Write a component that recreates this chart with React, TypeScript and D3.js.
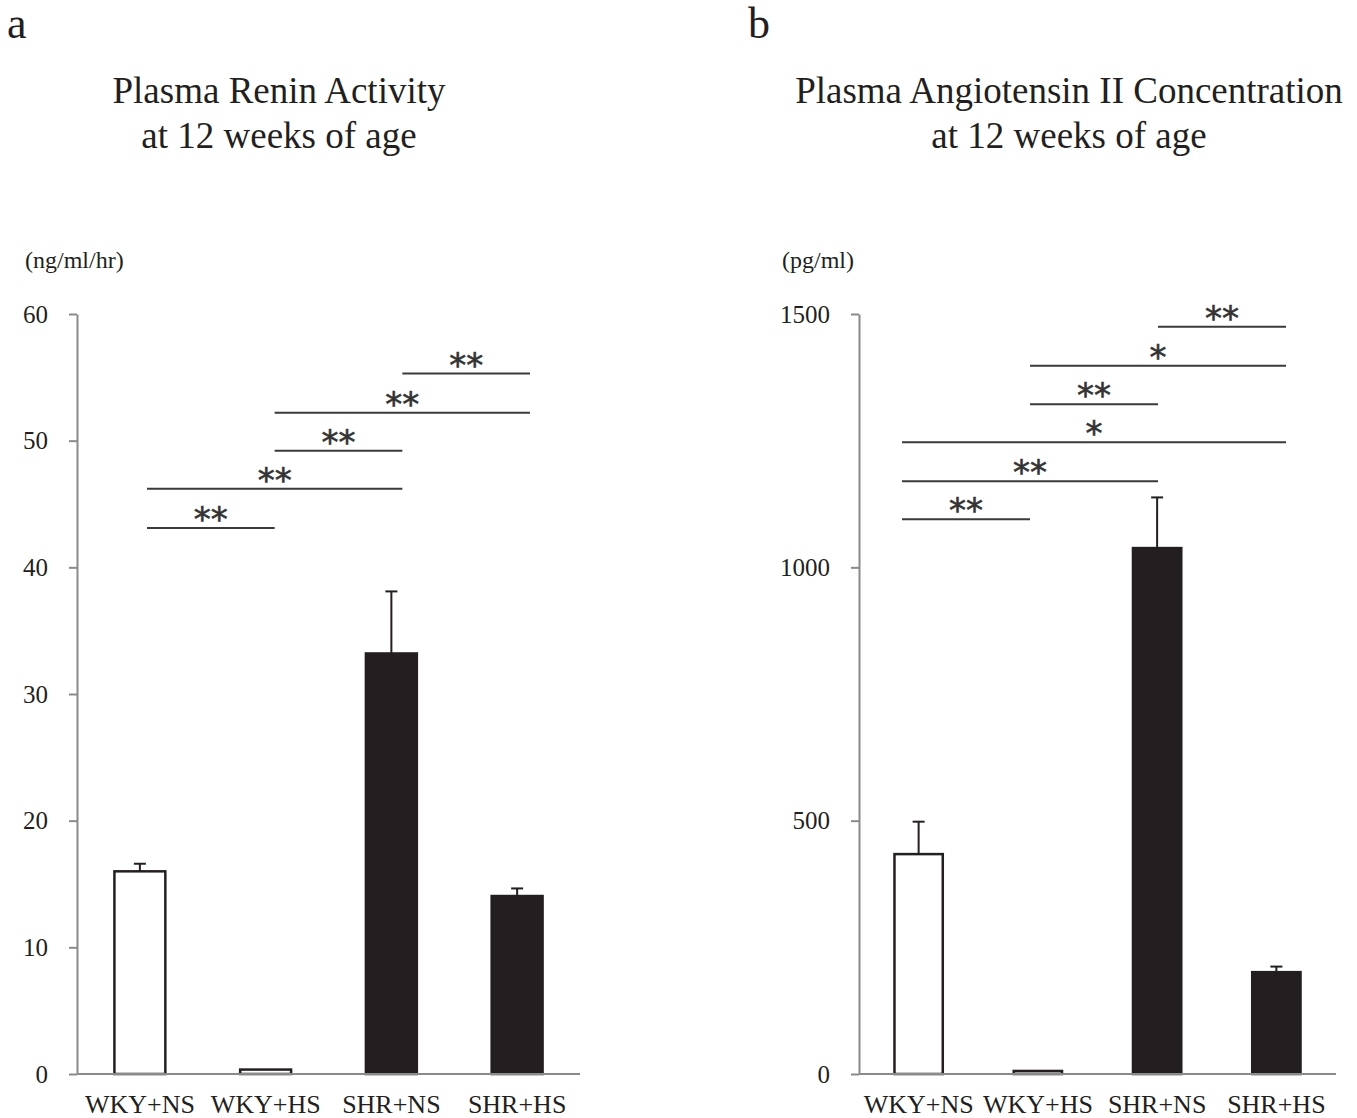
import React, { useEffect, useRef } from "react";
import * as d3 from "d3";

const categories = ["WKY+NS", "WKY+HS", "SHR+NS", "SHR+HS"];

// panel a: plasma renin activity (ng/ml/hr)
const reninMeans = [16.0, 0.35, 33.2, 14.05];
const reninErrors = [0.6, 0, 4.9, 0.6];
const reninTicks = [0, 10, 20, 30, 40, 50, 60];
const reninSig = [
  { from: 0, to: 1, label: "**", level: 43.1 },
  { from: 0, to: 2, label: "**", level: 46.2 },
  { from: 1, to: 2, label: "**", level: 49.2 },
  { from: 1, to: 3, label: "**", level: 52.2 },
  { from: 2, to: 3, label: "**", level: 55.3 },
];

// panel b: plasma angiotensin II (pg/ml)
const angMeans = [434, 6, 1038, 201];
const angErrors = [64, 0, 100, 11];
const angTicks = [0, 500, 1000, 1500];
const angSig = [
  { from: 0, to: 1, label: "**", level: 1095 },
  { from: 0, to: 2, label: "**", level: 1170 },
  { from: 0, to: 3, label: "*", level: 1247 },
  { from: 1, to: 2, label: "**", level: 1322 },
  { from: 1, to: 3, label: "*", level: 1398 },
  { from: 2, to: 3, label: "**", level: 1475 },
];

const barFills = ["#ffffff", "#ffffff", "#231f20", "#231f20"];
const FONT = "'Liberation Serif', 'Times New Roman', serif";
const INK = "#231f20";

const App = () => {
  const svgRef = useRef<SVGSVGElement>(null);

  useEffect(() => {
    drawChart();
  }, []);

  const drawChart = () => {
    const svg = d3.select(svgRef.current);
    svg.selectAll("*").remove();

    const panels = [
      {
        letter: "a", letterX: 7,
        title: ["Plasma Renin Activity", "at 12 weeks of age"], titleX: 279,
        unit: "(ng/ml/hr)", unitX: 25,
        left: 77, right: 580, max: 60,
        ticks: reninTicks, means: reninMeans, errors: reninErrors, sig: reninSig,
        sigRange: [147, 530],
      },
      {
        letter: "b", letterX: 748,
        title: ["Plasma Angiotensin II Concentration", "at 12 weeks of age"], titleX: 1069,
        unit: "(pg/ml)", unitX: 782,
        left: 859, right: 1336, max: 1500,
        ticks: angTicks, means: angMeans, errors: angErrors, sig: angSig,
        sigRange: [902, 1286],
      },
    ];

    const top = 314;
    const bottom = 1074;

    panels.forEach((p) => {
      const g = svg.append("g");

      const x = d3.scaleBand().domain(categories).range([p.left, p.right]).paddingInner(0.595).paddingOuter(0.2975);
      const y = d3.scaleLinear().domain([0, p.max]).range([bottom, top]);
      const sx = d3.scaleLinear().domain([0, 3]).range(p.sigRange);

      // panel letter
      g.append("text")
        .attr("x", p.letterX)
        .attr("y", 38)
        .style("font-family", FONT)
        .style("font-size", "44px")
        .style("fill", INK)
        .text(p.letter);

      // title
      p.title.forEach((line, i) => {
        g.append("text")
          .attr("x", p.titleX)
          .attr("y", 103 + i * 45)
          .attr("text-anchor", "middle")
          .style("font-family", FONT)
          .style("font-size", "37px")
          .style("fill", INK)
          .text(line);
      });

      // unit label
      g.append("text")
        .attr("x", p.unitX)
        .attr("y", 268)
        .style("font-family", FONT)
        .style("font-size", "24px")
        .style("fill", INK)
        .text(p.unit);

      // y axis
      const axis = g.append("g")
        .attr("transform", `translate(${p.left},0)`)
        .call(
          d3.axisLeft(y)
            .tickValues(p.ticks)
            .tickFormat(d3.format("d"))
            .tickSize(8)
            .tickSizeOuter(0)
            .tickPadding(21)
        );
      axis.select(".domain").attr("stroke", "#8a8a8a").attr("stroke-width", 2);
      axis.selectAll(".tick line").attr("stroke", "#8a8a8a").attr("stroke-width", 2);
      axis.selectAll(".tick text")
        .style("font-family", FONT)
        .style("font-size", "25px")
        .style("fill", INK);

      // bars
      g.selectAll("rect.bar")
        .data(p.means)
        .enter()
        .append("rect")
        .attr("class", "bar")
        .attr("x", (_, i) => x(categories[i])!)
        .attr("width", x.bandwidth())
        .attr("y", (d) => y(d))
        .attr("height", (d) => y(0) - y(d))
        .attr("fill", (_, i) => barFills[i])
        .attr("stroke", INK)
        .attr("stroke-width", 2.5);

      // error bars
      p.means.forEach((m, i) => {
        const e = p.errors[i];
        if (!e) return;
        const cx = x(categories[i])! + x.bandwidth() / 2;
        g.append("line")
          .attr("x1", cx).attr("x2", cx)
          .attr("y1", y(m)).attr("y2", y(m + e))
          .attr("stroke", INK).attr("stroke-width", 2);
        g.append("line")
          .attr("x1", cx - 6).attr("x2", cx + 6)
          .attr("y1", y(m + e)).attr("y2", y(m + e))
          .attr("stroke", INK).attr("stroke-width", 2);
      });

      // baseline
      g.append("line")
        .attr("x1", p.left).attr("x2", p.right)
        .attr("y1", y(0)).attr("y2", y(0))
        .attr("stroke", "#8a8a8a").attr("stroke-width", 2);

      // category labels
      g.selectAll("text.cat")
        .data(categories)
        .enter()
        .append("text")
        .attr("class", "cat")
        .attr("x", (d) => x(d)! + x.bandwidth() / 2)
        .attr("y", y(0) + 39)
        .attr("text-anchor", "middle")
        .style("font-family", FONT)
        .style("font-size", "26px")
        .style("fill", INK)
        .text((d) => d);

      // significance brackets
      p.sig.forEach((s) => {
        g.append("line")
          .attr("x1", sx(s.from)).attr("x2", sx(s.to))
          .attr("y1", y(s.level)).attr("y2", y(s.level))
          .attr("stroke", "#3a3a3a").attr("stroke-width", 2);
        g.append("text")
          .attr("x", (sx(s.from) + sx(s.to)) / 2)
          .attr("y", y(s.level) + 3)
          .attr("text-anchor", "middle")
          .style("font-family", "'DejaVu Sans', sans-serif")
          .style("font-size", "34px")
          .style("fill", "#333")
          .style("stroke", "#333")
          .style("stroke-width", 0.6)
          .text(s.label);
      });
    });
  };

  return (
    <svg
      ref={svgRef}
      width={1357}
      height={1118}
      style={{ position: "absolute", left: 0, top: 0, background: "#fff" }}
    ></svg>
  );
};

export default App;
